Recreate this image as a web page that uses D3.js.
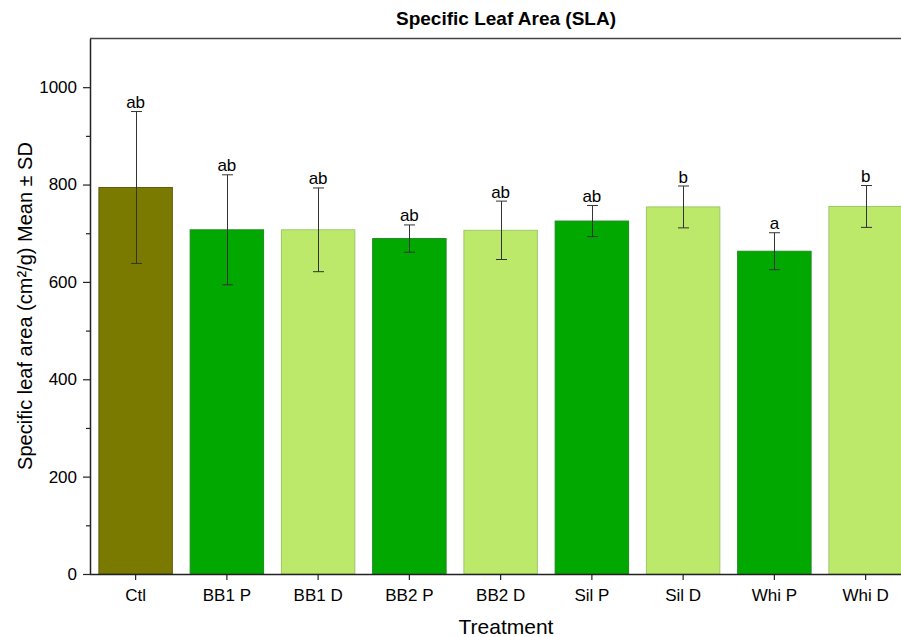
<!DOCTYPE html>
<html>
<head>
<meta charset="utf-8">
<script src="https://cdn.jsdelivr.net/npm/d3@7"></script>
<style>
  html, body { margin: 0; padding: 0; background: #fff; }
  svg { display: block; font-family: "Liberation Sans", Arial, sans-serif; }
</style>
</head>
<body>
<svg id="chart" width="901" height="637"></svg>
<script>
// Treatments, means, standard deviations and significance letters
const categories = ["Ctl", "BB1 P", "BB1 D", "BB2 P", "BB2 D", "Sil P", "Sil D", "Whi P", "Whi D"];
const means = [794, 707, 707, 689, 706, 725, 754, 663, 755];
const sds = [156, 113, 86, 28, 60, 32, 43, 38, 43];
const letters = ["ab", "ab", "ab", "ab", "ab", "ab", "b", "a", "b"];
const groups = ["ctl", "P", "D", "P", "D", "P", "D", "P", "D"];
const yTicks = [0, 200, 400, 600, 800, 1000];
const yMinorTicks = [100, 300, 500, 700, 900];

const fills = { ctl: "#7a7a00", P: "#00a800", D: "#bde96b" };
const strokes = { ctl: "#5c5c10", P: "#1c8a1c", D: "#9cc76a" };

const svg = d3.select("#chart");
const plotLeft = 90, plotTop = 38.5, plotBottom = 574;
const plotRight = 911.25;
const fontFam = "Liberation Sans, Arial, sans-serif";

const x = d3.scaleBand()
  .domain(categories)
  .range([plotLeft, plotRight])
  .paddingInner(0.195)
  .paddingOuter(0.0975);

const y = d3.scaleLinear().domain([0, 1100]).range([plotBottom, plotTop]);

const rows = categories.map((c, i) => ({ c, m: means[i], sd: sds[i], l: letters[i], g: groups[i] }));

// bars
svg.append("g").selectAll("rect").data(rows).join("rect")
  .attr("x", d => x(d.c))
  .attr("y", d => y(d.m))
  .attr("width", x.bandwidth())
  .attr("height", d => y(0) - y(d.m))
  .attr("fill", d => fills[d.g])
  .attr("stroke", d => strokes[d.g])
  .attr("stroke-width", 1);

// error bars
const eb = svg.append("g").attr("stroke", "#333").attr("stroke-width", 1);
rows.forEach(d => {
  const cx = Math.round(x(d.c) + x.bandwidth() / 2) + 0.5;
  const y1 = y(d.m + d.sd), y0 = y(d.m - d.sd);
  eb.append("line").attr("x1", cx).attr("x2", cx).attr("y1", y1).attr("y2", y0);
  eb.append("line").attr("x1", cx - 5.5).attr("x2", cx + 5.5).attr("y1", y1).attr("y2", y1);
  eb.append("line").attr("x1", cx - 5.5).attr("x2", cx + 5.5).attr("y1", y0).attr("y2", y0);
});

// significance letters
svg.append("g").selectAll("text").data(rows).join("text")
  .attr("x", d => x(d.c) + x.bandwidth() / 2)
  .attr("y", d => y(d.m + d.sd) - 3.5)
  .attr("text-anchor", "middle")
  .attr("font-size", 17)
  .attr("fill", "#000")
  .text(d => d.l);

// y axis
const yAxis = svg.append("g").attr("transform", `translate(${plotLeft},0)`)
  .call(d3.axisLeft(y).tickValues(yTicks).tickFormat(d3.format("d")).tickSize(7).tickSizeOuter(0).tickPadding(6));
yAxis.attr("font-size", 17).attr("font-family", fontFam);
yAxis.selectAll("text").attr("fill", "#000");
yAxis.select(".domain").attr("stroke", "#222").attr("stroke-width", 1.5);
yAxis.selectAll(".tick line").attr("stroke", "#222").attr("stroke-width", 1.2);
svg.append("g").attr("transform", `translate(${plotLeft},0)`)
  .call(d3.axisLeft(y).tickValues(yMinorTicks).tickSize(4).tickFormat(""))
  .call(g => g.select(".domain").remove())
  .selectAll(".tick line").attr("stroke", "#222").attr("stroke-width", 1.2);

// x axis
const xAxis = svg.append("g").attr("transform", `translate(0,${plotBottom})`)
  .call(d3.axisBottom(x).tickSize(6).tickSizeOuter(0).tickPadding(9));
xAxis.attr("font-size", 17).attr("font-family", fontFam);
xAxis.select(".domain").attr("d", `M${plotLeft},0.5H901`).attr("stroke", "#222").attr("stroke-width", 1.5);
xAxis.selectAll("text").attr("fill", "#000");
xAxis.selectAll(".tick line").attr("stroke", "#222").attr("stroke-width", 1.2);

// top frame line
svg.append("line").attr("x1", plotLeft).attr("x2", 901).attr("y1", plotTop).attr("y2", plotTop)
  .attr("stroke", "#444").attr("stroke-width", 1.5);

// title
svg.append("text").attr("x", 506).attr("y", 25).attr("text-anchor", "middle")
  .attr("font-size", 19).attr("font-weight", "bold").text("Specific Leaf Area (SLA)");

// axis titles
svg.append("text").attr("x", 506).attr("y", 634).attr("text-anchor", "middle")
  .attr("font-size", 21).text("Treatment");
svg.append("text").attr("transform", "translate(32,306) rotate(-90)").attr("text-anchor", "middle")
  .attr("font-size", 20).text("Specific leaf area (cm²/g) Mean ± SD");
</script>
</body>
</html>
